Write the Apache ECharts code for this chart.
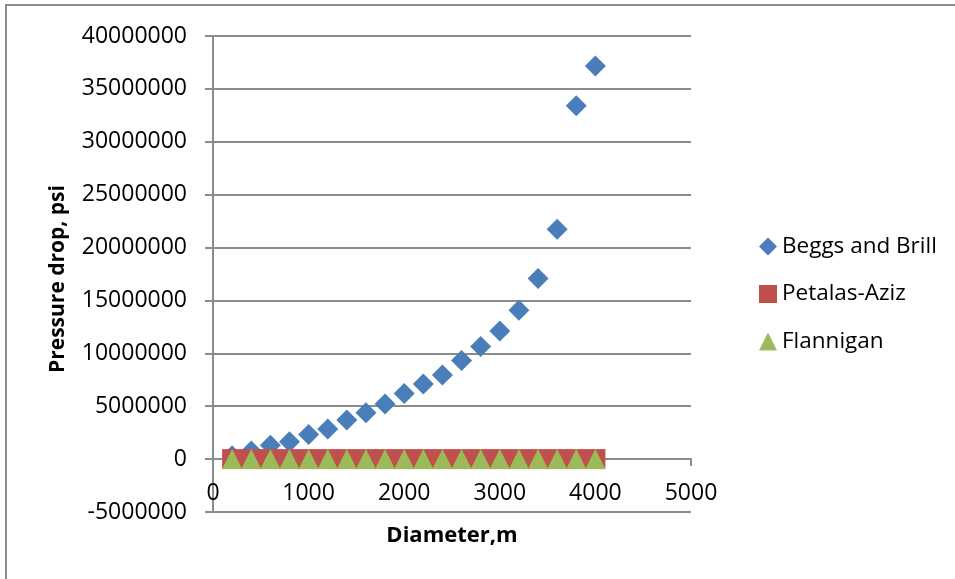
<!DOCTYPE html>
<html>
<head>
<meta charset="utf-8">
<script src="https://cdn.jsdelivr.net/npm/echarts@6/dist/echarts.min.js"></script>
<style>
  html, body { margin: 0; padding: 0; background: #fff; }
  #chart { width: 955px; height: 579px; }
</style>
</head>
<body>
<div id="chart"></div>
<script>
// Pipe diameter (m) for each calculated case
const diameters = [200, 400, 600, 800, 1000, 1200, 1400, 1600, 1800, 2000,
                   2200, 2400, 2600, 2800, 3000, 3200, 3400, 3600, 3800, 4000];

// Pressure drop (psi) from each correlation
const beggsBrill = [310000, 760000, 1300000, 1640000, 2330000, 2840000, 3690000, 4380000,
                    5200000, 6200000, 7100000, 7940000, 9330000, 10650000, 12100000,
                    14080000, 17080000, 21740000, 33400000, 37170000];
const petalasAziz = [0, 0, 0, 0, 0, 0, 0, 0, 0, 0, 0, 0, 0, 0, 0, 0, 0, 0, 0, 0];
const flannigan = [0, 0, 0, 0, 0, 0, 0, 0, 0, 0, 0, 0, 0, 0, 0, 0, 0, 0, 0, 0];

const seriesNames = ['Beggs and Brill', 'Petalas-Aziz', 'Flannigan'];

const pairs = (xs, ys) => xs.map((x, i) => [x, ys[i]]);
const plain = v => String(v);

const FONT = '"Open Sans", sans-serif';
const GRAY = '#8c8c8c';

const chart = echarts.init(document.getElementById('chart'), null, { renderer: 'canvas' });

chart.setOption({
  animation: false,
  backgroundColor: '#fff',
  textStyle: { fontFamily: FONT, color: '#000' },
  grid: { left: 213, right: 264, top: 36, bottom: 67, containLabel: false, outerBoundsMode: 'none' },
  xAxis: {
    type: 'value',
    min: 0, max: 5000, interval: 1000,
    name: 'Diameter,m',
    nameLocation: 'middle',
    nameGap: 13,
    nameMoveOverlap: false,
    nameTextStyle: { fontFamily: FONT, fontSize: 22, fontWeight: 'bold', color: '#000' },
    axisLine: { onZero: true, lineStyle: { color: GRAY, width: 2 } },
    axisTick: { show: true, inside: false, length: 7, lineStyle: { color: GRAY, width: 2 } },
    axisLabel: { margin: -30, fontFamily: FONT, fontSize: 23, color: '#000', formatter: plain },
    splitLine: { show: false }
  },
  yAxis: {
    type: 'value',
    min: -5000000, max: 40000000, interval: 5000000,
    axisLine: { show: true, lineStyle: { color: GRAY, width: 2 } },
    axisTick: { show: true, inside: false, length: 8, lineStyle: { color: GRAY, width: 2 } },
    axisLabel: { margin: 26, fontFamily: FONT, fontSize: 23, color: '#000', formatter: plain },
    splitLine: { show: true, lineStyle: { color: GRAY, width: 2 } }
  },
  legend: {
    orient: 'vertical',
    left: 759,
    top: 235,
    padding: 0,
    itemWidth: 18,
    itemHeight: 18,
    itemGap: 24.5,
    textStyle: { fontFamily: FONT, fontSize: 22.5, lineHeight: 23, color: '#000' },
    data: seriesNames
  },
  graphic: [
    {
      type: 'rect',
      shape: { x: 6, y: 5, width: 1200, height: 900 },
      style: { fill: 'none', stroke: GRAY, lineWidth: 2 },
      silent: true, z: -10
    },
    {
      type: 'text',
      x: 58, y: 279,
      rotation: Math.PI / 2,
      style: {
        text: 'Pressure drop, psi',
        font: 'bold 21px "Open Sans", sans-serif',
        fill: '#000',
        align: 'center',
        verticalAlign: 'middle'
      }
    }
  ],
  series: [
    {
      name: seriesNames[0],
      type: 'scatter',
      symbol: 'diamond',
      symbolSize: 21,
      itemStyle: { color: '#4a7ebb', opacity: 1 },
      data: pairs(diameters, beggsBrill)
    },
    {
      name: seriesNames[1],
      type: 'scatter',
      symbol: 'rect',
      symbolSize: 20,
      itemStyle: { color: '#c0504d', opacity: 1 },
      data: pairs(diameters, petalasAziz)
    },
    {
      name: seriesNames[2],
      type: 'scatter',
      symbol: 'triangle',
      symbolSize: 20,
      itemStyle: { color: '#9bbb59', opacity: 1 },
      data: pairs(diameters, flannigan)
    }
  ]
});
</script>
</body>
</html>
